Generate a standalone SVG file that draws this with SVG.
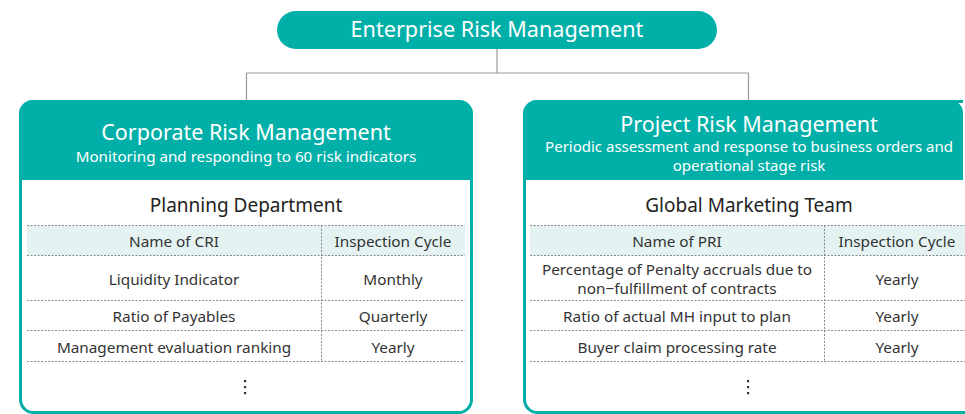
<svg xmlns="http://www.w3.org/2000/svg" width="965" height="414" viewBox="0 0 965 414">
<style>
text{font-family:"Noto Sans","Open Sans",sans-serif;text-anchor:middle}
.w{fill:#ffffff}
.d{fill:#333333;font-size:15.3px}
.h{font-size:19px;fill:#222222}
.teal{fill:#00b0a8}
.box{fill:#ffffff;stroke:#00b0a8;stroke-width:3}
.dot{stroke:#8a8a8a;stroke-width:1;stroke-dasharray:2 1.5;fill:none}
.hdr{fill:#e4f3f2}
.conn{stroke:#9a9a9a;stroke-width:1.2;fill:none}
</style>
<g id="connectors">
<path class="conn" d="M497,49 V73 M246.5,73 H748.5 M246.5,73 V100 M748.5,73 V100"/>
</g>
<g id="enterprise">
<rect class="teal" x="277" y="11" width="440" height="38" rx="19"/>
<text class="w" x="497" y="37" font-size="21.6">Enterprise Risk Management</text>
</g>
<g id="corporate">
<rect class="box" x="20.5" y="101.5" width="451" height="311" rx="13"/>
<path class="teal" d="M19,180 V114 A14,14 0 0 1 33,100 H459 A14,14 0 0 1 473,114 V180 Z"/>
<text class="w" x="246" y="140" font-size="21.5">Corporate Risk Management</text>
<text class="w" x="246" y="162" font-size="15.2">Monitoring and responding to 60 risk indicators</text>
<text class="h" x="246" y="212">Planning Department</text>
<rect class="hdr" x="27" y="225.5" width="438" height="30"/>
<path class="dot" d="M27,225.5 H465 M27,255.5 H465 M27,300.5 H465 M27,330.5 H465 M27,361.5 H465 M321.5,225.5 V361.5"/>
<text class="d" x="174" y="247">Name of CRI</text>
<text class="d" x="393" y="247">Inspection Cycle</text>
<text class="d" x="174" y="285">Liquidity Indicator</text>
<text class="d" x="393" y="285">Monthly</text>
<text class="d" x="174" y="322">Ratio of Payables</text>
<text class="d" x="393" y="322">Quarterly</text>
<text class="d" x="174" y="353">Management evaluation ranking</text>
<text class="d" x="393" y="353">Yearly</text>
<g fill="#333333"><rect x="244" y="380" width="2.2" height="2.2"/><rect x="244" y="386" width="2.2" height="2.2"/><rect x="244" y="392" width="2.2" height="2.2"/></g>
</g>
<g id="project">
<rect class="box" x="524.5" y="101.5" width="460" height="311" rx="13"/>
<path class="teal" d="M523,180 V114 A14,14 0 0 1 537,100 H950 A13,13 0 0 1 963,113 V180 Z"/>
<rect x="963" y="99" width="4" height="82" fill="#ffffff"/>
<text class="w" x="749" y="132" font-size="21.5">Project Risk Management</text>
<text class="w" x="749" y="152" font-size="15">Periodic assessment and response to business orders and</text>
<text class="w" x="749" y="171" font-size="15">operational stage risk</text>
<text class="h" x="749" y="212">Global Marketing Team</text>
<rect class="hdr" x="530" y="225.5" width="440" height="30"/>
<path class="dot" d="M530,225.5 H970 M530,255.5 H970 M530,300.5 H970 M530,330.5 H970 M530,361.5 H970 M824.5,225.5 V361.5"/>
<text class="d" x="677" y="247">Name of PRI</text>
<text class="d" x="897" y="247">Inspection Cycle</text>
<text class="d" x="677" y="275">Percentage of Penalty accruals due to</text>
<text class="d" x="677" y="294">non−fulfillment of contracts</text>
<text class="d" x="897" y="285">Yearly</text>
<text class="d" x="677" y="322">Ratio of actual MH input to plan</text>
<text class="d" x="897" y="322">Yearly</text>
<text class="d" x="677" y="353">Buyer claim processing rate</text>
<text class="d" x="897" y="353">Yearly</text>
<g fill="#333333"><rect x="747" y="380" width="2.2" height="2.2"/><rect x="747" y="386" width="2.2" height="2.2"/><rect x="747" y="392" width="2.2" height="2.2"/></g>
</g>
</svg>
